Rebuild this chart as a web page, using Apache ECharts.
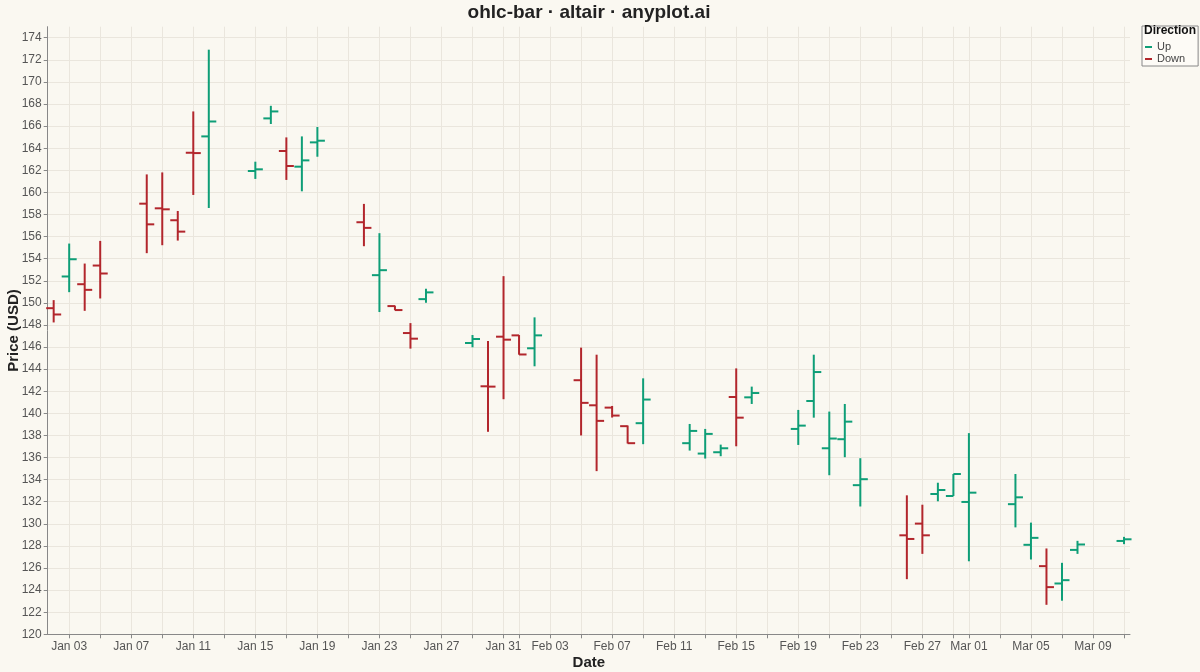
<!DOCTYPE html>
<html>
<head>
<meta charset="utf-8">
<script src="https://cdn.jsdelivr.net/npm/echarts@6/dist/echarts.min.js"></script>
<style>
  html, body { margin: 0; padding: 0; background: #FAF8F1; }
  #chart { width: 1200px; height: 672px; }
</style>
</head>
<body>
<div id="chart"></div>
<script>
// ---- Data ----
const dates = [
  '2024-01-02','2024-01-03','2024-01-04','2024-01-05',
  '2024-01-08','2024-01-09','2024-01-10','2024-01-11','2024-01-12',
  '2024-01-15','2024-01-16','2024-01-17','2024-01-18','2024-01-19',
  '2024-01-22','2024-01-23','2024-01-24','2024-01-25','2024-01-26',
  '2024-01-29','2024-01-30','2024-01-31','2024-02-01','2024-02-02',
  '2024-02-05','2024-02-06','2024-02-07','2024-02-08','2024-02-09',
  '2024-02-12','2024-02-13','2024-02-14','2024-02-15','2024-02-16',
  '2024-02-19','2024-02-20','2024-02-21','2024-02-22','2024-02-23',
  '2024-02-26','2024-02-27','2024-02-28','2024-02-29','2024-03-01',
  '2024-03-04','2024-03-05','2024-03-06','2024-03-07','2024-03-08',
  '2024-03-11'
];
const opens = [
  149.52,152.39,151.69,153.38,
  158.98,158.56,157.48,163.59,165.07,
  161.94,166.70,163.75,162.33,164.53,
  157.30,152.51,149.71,147.27,150.34,
  146.37,142.45,146.94,147.06,145.89,
  143.00,140.73,140.52,138.84,139.11,
  137.30,136.36,136.48,141.48,141.45,
  138.59,141.12,136.84,137.66,133.50,
  128.96,130.02,132.70,132.52,131.98,
  131.78,128.10,126.17,124.60,127.64,
  128.45
];
const highs = [
  150.25,155.37,153.56,155.61,
  161.63,161.81,158.32,167.33,172.92,
  162.78,167.84,164.98,165.07,165.92,
  158.96,156.31,149.75,148.17,151.28,
  147.09,146.55,152.42,147.09,148.69,
  145.95,145.31,140.67,138.90,143.17,
  139.04,138.59,137.17,144.07,142.42,
  140.31,145.31,140.16,140.85,135.94,
  132.58,131.73,133.72,134.51,138.21,
  134.51,130.11,127.77,126.47,128.46,
  128.82
];
const lows = [
  148.23,150.97,149.28,150.40,
  154.50,155.22,155.64,159.77,158.59,
  161.22,166.19,161.13,160.10,163.23,
  155.13,149.17,149.33,145.86,150.01,
  145.98,138.33,141.28,145.31,144.26,
  138.00,134.77,139.62,137.27,137.21,
  136.63,135.91,136.12,137.02,140.85,
  137.14,139.61,134.40,136.03,131.57,
  124.99,127.28,132.04,132.52,126.61,
  129.68,126.77,122.67,123.04,127.28,
  128.16
];
const closes = [
  148.95,153.95,151.18,152.66,
  157.11,158.47,156.45,163.56,166.42,
  162.09,167.33,162.39,162.90,164.68,
  156.79,152.96,149.35,146.76,150.95,
  146.73,142.42,146.67,145.33,147.06,
  140.95,139.32,139.80,137.30,141.25,
  138.41,138.14,136.84,139.61,141.84,
  138.89,143.74,137.72,139.25,134.04,
  128.63,128.96,133.06,134.51,132.82,
  132.40,128.73,124.27,124.90,128.13,
  128.60
];
const xTickDates = [
  '2024-01-03','2024-01-05','2024-01-07','2024-01-09','2024-01-11','2024-01-13',
  '2024-01-15','2024-01-17','2024-01-19','2024-01-21','2024-01-23','2024-01-25',
  '2024-01-27','2024-01-29','2024-01-31','2024-02-01','2024-02-03','2024-02-05',
  '2024-02-07','2024-02-09','2024-02-11','2024-02-13','2024-02-15','2024-02-17',
  '2024-02-19','2024-02-21','2024-02-23','2024-02-25','2024-02-27','2024-02-29',
  '2024-03-01','2024-03-03','2024-03-05','2024-03-07','2024-03-09','2024-03-11'
];
const xLabelDates = [
  '2024-01-03','2024-01-07','2024-01-11','2024-01-15','2024-01-19','2024-01-23',
  '2024-01-27','2024-01-31','2024-02-03','2024-02-07','2024-02-11','2024-02-15',
  '2024-02-19','2024-02-23','2024-02-27','2024-03-01','2024-03-05','2024-03-09'
];
const yTicks = [120,122,124,126,128,130,132,134,136,138,140,142,144,146,148,150,
  152,154,156,158,160,162,164,166,168,170,172,174];

// ---- Helpers ----
const MONTHS = ['Jan','Feb','Mar','Apr','May','Jun','Jul','Aug','Sep','Oct','Nov','Dec'];
function ts(s) { const p = s.split('-'); return Date.UTC(+p[0], +p[1] - 1, +p[2]); }
function fmt(v) {
  const d = new Date(v);
  const dd = d.getUTCDate();
  return MONTHS[d.getUTCMonth()] + ' ' + (dd < 10 ? '0' + dd : '' + dd);
}
const DAY = 86400000;

const upData = [], downData = [];
dates.forEach((d, i) => {
  const row = [ts(d), opens[i], highs[i], lows[i], closes[i]];
  if (closes[i] >= opens[i]) upData.push(row); else downData.push(row);
});

const UP = '#0E9E77';
const DOWN = '#B2262C';
const FONT = '"Liberation Sans", Arial, Helvetica, sans-serif';

function renderOHLC(params, api) {
  const t = api.value(0);
  const pO = api.coord([t, api.value(1)]);
  const pH = api.coord([t, api.value(2)]);
  const pL = api.coord([t, api.value(3)]);
  const pC = api.coord([t, api.value(4)]);
  const color = api.visual('color');
  const st = { stroke: color, lineWidth: 2 };
  return {
    type: 'group',
    children: [
      { type: 'line', shape: { x1: pH[0], y1: pH[1], x2: pL[0], y2: pL[1] }, style: st },
      { type: 'line', shape: { x1: pO[0] - 7.5, y1: pO[1], x2: pO[0], y2: pO[1] }, style: st },
      { type: 'line', shape: { x1: pC[0], y1: pC[1], x2: pC[0] + 7.5, y2: pC[1] }, style: st }
    ]
  };
}

const chart = echarts.init(document.getElementById('chart'), null, { renderer: 'canvas' });
chart.setOption({
  backgroundColor: '#FAF8F1',
  animation: false,
  title: {
    text: 'ohlc-bar · altair · anyplot.ai',
    left: 584, top: -2, textAlign: 'center',
    textStyle: { fontFamily: FONT, fontSize: 19, fontWeight: 'bold', color: '#222' }
  },
  legend: {
    orient: 'vertical',
    left: 1142, top: 26,
    padding: [15, 13, 1, 3],
    itemGap: 0,
    itemWidth: 7, itemHeight: 2,
    icon: 'rect',
    backgroundColor: '#FDFBF6',
    borderColor: '#888', borderWidth: 1,
    textStyle: { fontFamily: FONT, fontSize: 11, color: '#444', lineHeight: 12 },
    data: ['Up', 'Down']
  },
  graphic: [{
    type: 'text', left: 1144, top: 25, z: 100,
    style: { text: 'Direction', font: 'bold 12px ' + FONT, fill: '#111' }
  }],
  grid: {
    left: 47.7, right: 70, top: 26.7, bottom: 37.7,
    containLabel: false, outerBoundsMode: 'none'
  },
  xAxis: {
    type: 'value',
    min: ts('2024-01-02') - 0.385 * DAY,
    max: ts('2024-03-11') + 0.385 * DAY,
    name: 'Date', nameLocation: 'middle', nameGap: 21, nameMoveOverlap: false,
    nameTextStyle: { fontFamily: FONT, fontSize: 15, fontWeight: 'bold', color: '#222' },
    axisLine: { show: true, lineStyle: { color: '#888', width: 1 } },
    axisTick: { show: true, length: 4, lineStyle: { color: '#888' }, customValues: xTickDates.map(ts) },
    axisLabel: {
      customValues: xLabelDates.map(ts),
      formatter: fmt, margin: 6,
      fontFamily: FONT, fontSize: 12, color: '#555'
    },
    splitLine: { show: true, lineStyle: { color: '#EAE6DD', width: 1 } }
  },
  yAxis: {
    type: 'value', min: 120, max: 175,
    name: 'Price (USD)', nameLocation: 'middle', nameGap: 26, nameMoveOverlap: false,
    nameTextStyle: { fontFamily: FONT, fontSize: 15, fontWeight: 'bold', color: '#222' },
    axisLine: { show: true, lineStyle: { color: '#888', width: 1 } },
    axisTick: { show: true, length: 4, lineStyle: { color: '#888' }, customValues: yTicks },
    axisLabel: { customValues: yTicks, margin: 6, fontFamily: FONT, fontSize: 12, color: '#555' },
    splitLine: { show: true, lineStyle: { color: '#EAE6DD', width: 1 } }
  },
  series: [
    {
      name: 'Up', type: 'custom', renderItem: renderOHLC,
      itemStyle: { color: UP },
      encode: { x: 0, y: [1, 2, 3, 4] },
      data: upData
    },
    {
      name: 'Down', type: 'custom', renderItem: renderOHLC,
      itemStyle: { color: DOWN },
      encode: { x: 0, y: [1, 2, 3, 4] },
      data: downData
    }
  ]
});
</script>
</body>
</html>
